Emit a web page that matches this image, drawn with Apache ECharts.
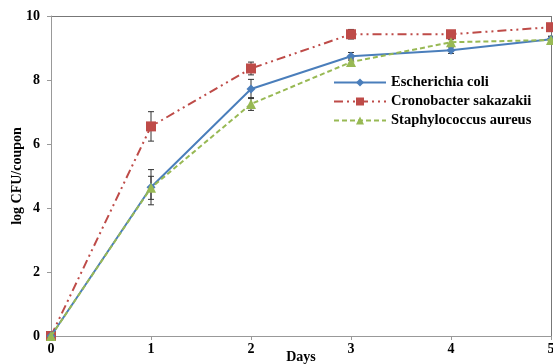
<!DOCTYPE html>
<html>
<head>
<meta charset="utf-8">
<script src="https://cdn.jsdelivr.net/npm/echarts@6/dist/echarts.min.js"></script>
<style>
  html, body { margin: 0; padding: 0; background: #fff; }
  #main { width: 553px; height: 364px; }
</style>
</head>
<body>
<div id="main"></div>
<script>
// data
const days = [0, 1, 2, 3, 4, 5];
const ecoli = [0, 4.65, 7.72, 8.74, 8.93, 9.27];
const ecoliErr = [0.05, 0.55, 0.3, 0.12, 0.1, 0.1];
const crono = [0, 6.55, 8.36, 9.43, 9.43, 9.65];
const cronoErr = [0.05, 0.46, 0.2, 0.15, 0.08, 0.1];
const staph = [0, 4.63, 7.25, 8.56, 9.18, 9.25];
const staphErr = [0.05, 0.36, 0.2, 0.1, 0.08, 0.1];
const yTicks = [0, 2, 4, 6, 8, 10];

const fontFam = '"Liberation Serif", "DejaVu Serif", serif';
const pairs = (vals) => vals.map((v, i) => [days[i], v]);

// error bars drawn with a custom series
const errSeries = (vals, errs) => ({
  type: 'custom',
  silent: true,
  z: 1,
  data: vals.map((v, i) => [days[i], v - errs[i], v + errs[i]]),
  renderItem: (params, api) => {
    const lo = api.coord([api.value(0), api.value(1)]);
    const hi = api.coord([api.value(0), api.value(2)]);
    const w = 3;
    const st = { stroke: '#333', lineWidth: 1 };
    return {
      type: 'group',
      children: [
        { type: 'line', shape: { x1: lo[0], y1: lo[1], x2: hi[0], y2: hi[1] }, style: st },
        { type: 'line', shape: { x1: lo[0] - w, y1: lo[1], x2: lo[0] + w, y2: lo[1] }, style: st },
        { type: 'line', shape: { x1: hi[0] - w, y1: hi[1], x2: hi[0] + w, y2: hi[1] }, style: st }
      ]
    };
  }
});

const myChart = echarts.init(document.getElementById('main'));
const option = {
  animation: false,
  grid: { left: 51, right: 2, top: 16, bottom: 28, containLabel: false, outerBoundsMode: 'none' },
  legend: {
    orient: 'vertical',
    left: 328,
    top: 70,
    itemWidth: 52,
    itemHeight: 10,
    itemGap: 4,
    data: ['Escherichia coli', 'Cronobacter sakazakii', 'Staphylococcus aureus'],
    textStyle: { fontFamily: fontFam, fontWeight: 'bold', fontSize: 14.5, color: '#000' }
  },
  xAxis: {
    type: 'value',
    min: 0,
    max: 5,
    interval: 1,
    name: 'Days',
    nameLocation: 'middle',
    nameGap: 14,
    nameMoveOverlap: false,
    nameTextStyle: { fontFamily: fontFam, fontWeight: 'bold', fontSize: 14, color: '#000' },
    axisLine: { lineStyle: { color: '#999' } },
    axisTick: { show: true, length: 4, lineStyle: { color: '#999' } },
    splitLine: { show: false },
    axisLabel: { fontFamily: fontFam, fontWeight: 'bold', fontSize: 14, color: '#000', margin: 6 }
  },
  yAxis: {
    type: 'value',
    min: 0,
    max: 10,
    interval: 2,
    name: 'log CFU/coupon',
    nameLocation: 'middle',
    nameGap: 27,
    nameMoveOverlap: false,
    nameTextStyle: { fontFamily: fontFam, fontWeight: 'bold', fontSize: 14, color: '#000' },
    axisLine: { show: true, lineStyle: { color: '#999' } },
    axisTick: { show: true, length: 4, lineStyle: { color: '#999' } },
    splitLine: { show: false },
    axisLabel: {
      fontFamily: fontFam, fontWeight: 'bold', fontSize: 14, color: '#000', margin: 11,
      formatter: (v) => (yTicks.includes(v) ? String(v) : '')
    }
  },
  series: [
    errSeries(crono, cronoErr),
    errSeries(ecoli, ecoliErr),
    errSeries(staph, staphErr),
    {
      name: 'Cronobacter sakazakii',
      type: 'line',
      data: pairs(crono),
      symbol: 'rect',
      symbolSize: 10,
      z: 3,
      itemStyle: { color: '#be4b48' },
      lineStyle: { color: '#be4b48', width: 2, type: [9, 4, 2, 4, 2, 4] }
    },
    {
      name: 'Escherichia coli',
      type: 'line',
      data: pairs(ecoli),
      symbol: 'diamond',
      symbolSize: 9,
      z: 4,
      itemStyle: { color: '#4a7ebb' },
      lineStyle: { color: '#4a7ebb', width: 2, type: 'solid' }
    },
    {
      name: 'Staphylococcus aureus',
      type: 'line',
      data: pairs(staph),
      symbol: 'triangle',
      symbolSize: 10,
      z: 5,
      itemStyle: { color: '#98b954' },
      lineStyle: { color: '#98b954', width: 2, type: [5, 3] }
    }
  ],
  graphic: [
    // top and right frame lines of the plot area
    { type: 'line', shape: { x1: 47, y1: 16.5, x2: 551, y2: 16.5 }, style: { stroke: '#777', lineWidth: 1 } },
    { type: 'line', shape: { x1: 551.5, y1: 16, x2: 551.5, y2: 336 }, style: { stroke: '#777', lineWidth: 1 } }
  ]
};
myChart.setOption(option);
window.addEventListener('resize', () => {
  myChart.resize();
});
</script>
</body>
</html>
